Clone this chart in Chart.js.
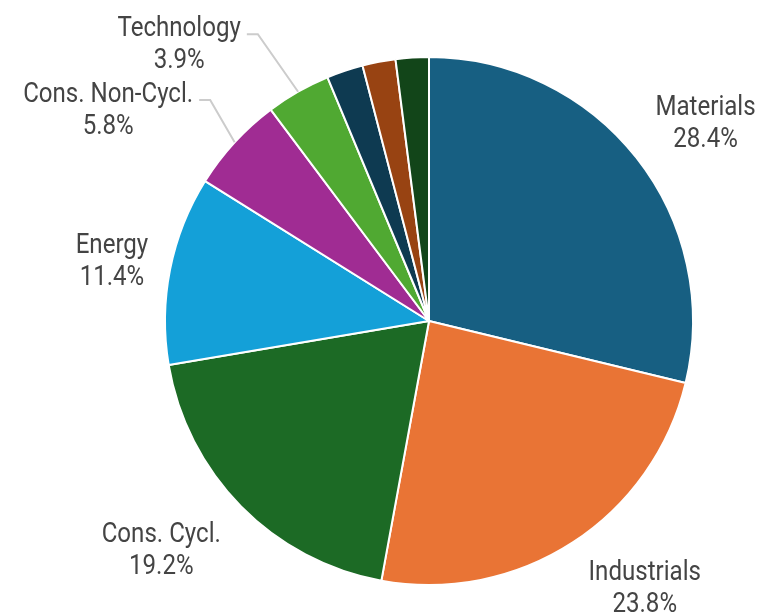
<!DOCTYPE html>
<html>
<head>
<meta charset="utf-8">
<script src="https://cdn.jsdelivr.net/npm/chart.js@4.4.0/dist/chart.umd.min.js"></script>
<style>
  html, body { margin: 0; padding: 0; background: #fff; }
  #wrap { width: 759px; height: 613px; }
</style>
</head>
<body>
<div id="wrap"><canvas id="sectorChart" width="759" height="613"></canvas></div>
<script>
// sector weights (%), clockwise from 12 o'clock
const sectors = ['Materials', 'Industrials', 'Cons. Cycl.', 'Energy', 'Cons. Non-Cycl.', 'Technology', 'Other 1', 'Other 2', 'Other 3'];
const weights = [28.4, 23.8, 19.2, 11.4, 5.8, 3.9, 2.2, 2.0, 2.0];
const showLabel = [true, true, true, true, true, true, false, false, false];
const sliceColors = ['#175f82', '#e97435', '#1c6a25', '#14a0d8', '#a02c93', '#50a932', '#0e3a51', '#984312', '#124519'];

// label layout: distance from centre, angle shift (deg), optional leader line
const labelLayout = [
    { dist: 341, shift: 2.4 },
    { dist: 342, shift: -6.1 },
    { dist: 351, shift: 4.3 },
    { dist: 323, shift: -0.2 },
    { dist: 311, shift: 2.7, leader: true },
    { dist: 334, shift: -1.1, leader: true }
];

const FONT_PX = 28;
const SQUEEZE = 0.86; // narrow the glyphs a bit, like a condensed face

function drawLine(ctx, text, cx, capMid) {
    ctx.save();
    ctx.translate(cx, capMid + FONT_PX * 0.355);
    ctx.scale(SQUEEZE, 1);
    ctx.fillText(text, 0, 0);
    ctx.restore();
}

const sliceLabels = {
    id: 'sliceLabels',
    afterDatasetsDraw(chart) {
        const ctx = chart.ctx;
        const arcs = chart.getDatasetMeta(0).data;
        ctx.save();
        ctx.font = FONT_PX + 'px Roboto';
        ctx.fillStyle = '#444444';
        ctx.textBaseline = 'alphabetic';
        ctx.textAlign = 'center';
        arcs.forEach((arc, i) => {
            if (!showLabel[i]) return;
            const lay = labelLayout[i];
            const mid = (arc.startAngle + arc.endAngle) / 2;
            const ang = mid + (lay.shift || 0) * Math.PI / 180;
            const lines = [sectors[i], weights[i].toFixed(1) + '%'];
            if (lay.leader) {
                const ex = arc.x + Math.cos(mid) * arc.outerRadius;
                const ey = arc.y + Math.sin(mid) * arc.outerRadius;
                const kx = arc.x + Math.cos(ang) * lay.dist;
                const ky = arc.y + Math.sin(ang) * lay.dist;
                ctx.strokeStyle = '#cccccc';
                ctx.lineWidth = 2;
                ctx.beginPath();
                ctx.moveTo(ex, ey);
                ctx.lineTo(kx, ky);
                ctx.lineTo(kx - 11, ky);
                ctx.stroke();
                const w = Math.max(...lines.map(l => ctx.measureText(l).width)) * SQUEEZE;
                const cx = kx - 17 - w / 2;
                drawLine(ctx, lines[0], cx, ky - 8);
                drawLine(ctx, lines[1], cx, ky + 24);
            } else {
                const cx = arc.x + Math.cos(ang) * lay.dist;
                const cy = arc.y + Math.sin(ang) * lay.dist;
                drawLine(ctx, lines[0], cx, cy - 16);
                drawLine(ctx, lines[1], cx, cy + 16);
            }
        });
        ctx.restore();
    }
};

const ctx = document.getElementById('sectorChart').getContext('2d');
const sectorChart = new Chart(ctx, {
    type: 'pie',
    data: {
        labels: sectors,
        datasets: [{
            data: weights,
            backgroundColor: sliceColors,
            borderColor: '#ffffff',
            borderWidth: 2,
            hoverOffset: 0
        }]
    },
    options: {
        responsive: false,
        animation: false,
        layout: {
            padding: { left: 164, right: 65, top: 56, bottom: 27 }
        },
        plugins: {
            legend: { display: false },
            tooltip: { enabled: false }
        }
    },
    plugins: [sliceLabels]
});
</script>
</body>
</html>
